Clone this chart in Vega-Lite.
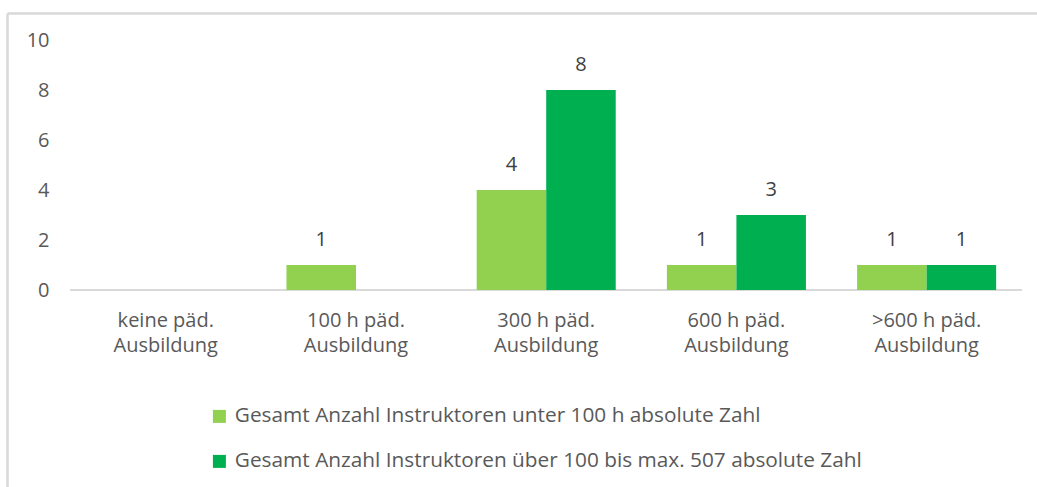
{
  "$schema": "https://vega.github.io/schema/vega-lite/v6.json",
  "autosize": "none",
  "width": 1030,
  "height": 474,
  "padding": {"left": 7, "top": 13, "right": 0, "bottom": 0},
  "background": "white",
  "config": {
    "view": {"stroke": null},
    "font": "Open Sans"
  },
  "resolve": {"axis": {"x": "independent", "y": "independent"}},
  "data": {
    "values": [
      {"kategorie": "keine päd. Ausbildung", "gruppe": "Gesamt Anzahl Instruktoren unter 100 h absolute Zahl", "anzahl": 0},
      {"kategorie": "keine päd. Ausbildung", "gruppe": "Gesamt Anzahl Instruktoren über 100 bis max. 507 absolute Zahl", "anzahl": 0},
      {"kategorie": "100 h päd. Ausbildung", "gruppe": "Gesamt Anzahl Instruktoren unter 100 h absolute Zahl", "anzahl": 1},
      {"kategorie": "100 h päd. Ausbildung", "gruppe": "Gesamt Anzahl Instruktoren über 100 bis max. 507 absolute Zahl", "anzahl": 0},
      {"kategorie": "300 h päd. Ausbildung", "gruppe": "Gesamt Anzahl Instruktoren unter 100 h absolute Zahl", "anzahl": 4},
      {"kategorie": "300 h päd. Ausbildung", "gruppe": "Gesamt Anzahl Instruktoren über 100 bis max. 507 absolute Zahl", "anzahl": 8},
      {"kategorie": "600 h päd. Ausbildung", "gruppe": "Gesamt Anzahl Instruktoren unter 100 h absolute Zahl", "anzahl": 1},
      {"kategorie": "600 h päd. Ausbildung", "gruppe": "Gesamt Anzahl Instruktoren über 100 bis max. 507 absolute Zahl", "anzahl": 3},
      {"kategorie": ">600 h päd. Ausbildung", "gruppe": "Gesamt Anzahl Instruktoren unter 100 h absolute Zahl", "anzahl": 1},
      {"kategorie": ">600 h päd. Ausbildung", "gruppe": "Gesamt Anzahl Instruktoren über 100 bis max. 507 absolute Zahl", "anzahl": 1}
    ]
  },
  "layer": [
    {
      "mark": {"type": "point", "opacity": 0},
      "encoding": {
        "x": {
          "field": "kategorie", "type": "nominal", "sort": null,
          "scale": {"domain": ["keine päd. Ausbildung", "100 h päd. Ausbildung", "300 h päd. Ausbildung", "600 h päd. Ausbildung", ">600 h päd. Ausbildung"], "paddingInner": 0.269, "paddingOuter": 0.342, "align": 0.686, "round": false},
          "axis": {"orient": "top", "title": null, "labels": false, "ticks": false, "domain": true, "domainColor": "#d9d9d9", "domainWidth": 2.5, "grid": false}
        },
        "y": {
          "field": "anzahl", "type": "quantitative",
          "scale": {"domain": [-7.88, 11.08], "nice": false, "zero": false},
          "axis": {"orient": "left", "title": null, "labels": false, "ticks": false, "domain": true, "domainColor": "#d9d9d9", "domainWidth": 2.5, "grid": false, "offset": 0}
        }
      }
    },
    {
      "mark": {"type": "rule", "color": "#d9d9d9", "strokeWidth": 2},
      "encoding": {
        "x": {
          "datum": "keine päd. Ausbildung", "bandPosition": -0.184,
          "scale": {"domain": ["keine päd. Ausbildung", "100 h päd. Ausbildung", "300 h päd. Ausbildung", "600 h päd. Ausbildung", ">600 h päd. Ausbildung"], "paddingInner": 0.269, "paddingOuter": 0.342, "align": 0.686, "round": false},
          "axis": null
        },
        "x2": {"datum": ">600 h päd. Ausbildung", "bandPosition": 1.184},
        "y": {"datum": 0, "scale": {"domain": [-7.88, 11.08], "nice": false, "zero": false}, "axis": null}
      }
    },
    {
      "mark": {"type": "bar"},
      "encoding": {
        "x": {
          "field": "kategorie", "type": "nominal", "sort": null,
          "scale": {"domain": ["keine päd. Ausbildung", "100 h päd. Ausbildung", "300 h päd. Ausbildung", "600 h päd. Ausbildung", ">600 h päd. Ausbildung"], "paddingInner": 0.269, "paddingOuter": 0.342, "align": 0.686, "round": false},
          "axis": {
            "title": null, "orient": "bottom", "offset": -197, "domain": false, "ticks": false, "grid": false,
            "labelAngle": 0, "labelPadding": 20, "labelFontSize": 20, "labelLineHeight": 25, "labelColor": "#595959",
            "labelExpr": "[replace(datum.label, ' Ausbildung', ''), 'Ausbildung']"
          }
        },
        "xOffset": {"field": "gruppe", "type": "nominal", "sort": null, "scale": {"paddingInner": 0, "paddingOuter": 0}},
        "y": {
          "field": "anzahl", "type": "quantitative",
          "scale": {"domain": [-7.88, 11.08], "nice": false, "zero": false},
          "axis": {"title": null, "orient": "left", "values": [0, 2, 4, 6, 8, 10], "offset": -42, "domain": false, "ticks": false, "grid": false, "labelPadding": 0, "labelFontSize": 20, "labelColor": "#595959"}
        },
        "y2": {"datum": 0},
        "color": {
          "field": "gruppe", "type": "nominal", "sort": null,
          "scale": {"range": ["#92D050", "#00B050"]},
          "legend": {
            "title": null, "orient": "none", "legendX": 202, "legendY": 393, "direction": "vertical",
            "symbolType": "square", "symbolSize": 169, "symbolStrokeWidth": 0, "symbolOpacity": 1,
            "labelFontSize": 20.8, "labelColor": "#595959", "labelOffset": 5, "rowPadding": 23, "padding": 0, "labelLimit": 900
          }
        }
      }
    },
    {
      "transform": [{"filter": "datum.anzahl > 0"}],
      "mark": {"type": "text", "baseline": "middle", "dy": -25, "fontSize": 20, "color": "#404040"},
      "encoding": {
        "x": {
          "field": "kategorie", "type": "nominal", "sort": null,
          "scale": {"domain": ["keine päd. Ausbildung", "100 h päd. Ausbildung", "300 h päd. Ausbildung", "600 h päd. Ausbildung", ">600 h päd. Ausbildung"], "paddingInner": 0.269, "paddingOuter": 0.342, "align": 0.686, "round": false},
          "axis": null
        },
        "xOffset": {"field": "gruppe", "type": "nominal", "sort": null, "scale": {"paddingInner": 0, "paddingOuter": 0}},
        "y": {"field": "anzahl", "type": "quantitative", "scale": {"domain": [-7.88, 11.08], "nice": false, "zero": false}, "axis": null},
        "text": {"field": "anzahl", "type": "quantitative"}
      }
    }
  ]
}
